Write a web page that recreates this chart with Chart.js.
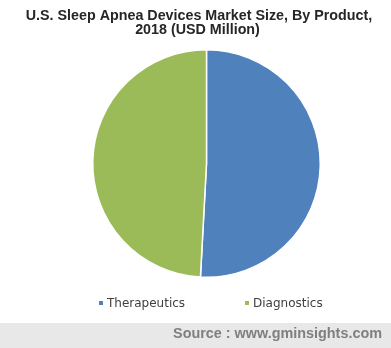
<!DOCTYPE html>
<html>
<head>
<meta charset="utf-8">
<script src="https://cdn.jsdelivr.net/npm/chart.js@4"></script>
<style>
  html, body { margin: 0; padding: 0; background: #ffffff; }
  #wrap { position: relative; width: 391px; height: 348px; }
  canvas { display: block; }
</style>
</head>
<body>
<div id="wrap"><canvas id="c" width="391" height="348"></canvas></div>
<script>
// Data (share of 2018 U.S. market)
const categories = ["Therapeutics", "Diagnostics"];
const shareValues = [50.85, 49.15];
const sliceColors = ["#4f81bd", "#9bbb59"];
const titleLines = ["U.S. Sleep Apnea Devices Market Size, By Product,", "2018 (USD Million)"];
const sourceText = "Source : www.gminsights.com";

const decorPlugin = {
  id: "decor",
  beforeDraw(chart) {
    const ctx = chart.ctx;
    ctx.save();
    ctx.fillStyle = "#ffffff";
    ctx.fillRect(0, 0, chart.width, chart.height);
    // source band
    ctx.fillStyle = "#e8e8e8";
    ctx.fillRect(0, 323, chart.width, chart.height - 323);
    ctx.restore();
  },
  afterDraw(chart) {
    const ctx = chart.ctx;
    ctx.save();
    // title
    ctx.fillStyle = "#262626";
    ctx.font = "bold 14.3px 'Liberation Sans', Arial, sans-serif";
    ctx.textAlign = "center";
    ctx.textBaseline = "alphabetic";
    ctx.fillText(titleLines[0], 199, 19.5);
    ctx.fillText(titleLines[1], 197.5, 34);
    // legend
    ctx.font = "12px 'DejaVu Sans', sans-serif";
    ctx.textAlign = "left";
    ctx.textBaseline = "middle";
    const legendX = [99, 245];
    categories.forEach((name, i) => {
      ctx.fillStyle = sliceColors[i];
      ctx.fillRect(legendX[i], 301, 4, 4);
      ctx.fillStyle = "#404040";
      ctx.fillText(name, legendX[i] + 8, 303.5);
    });
    // source
    ctx.fillStyle = "#7f7f7f";
    ctx.font = "bold 14.4px 'Liberation Sans', Arial, sans-serif";
    ctx.textAlign = "right";
    ctx.fillText(sourceText, 382, 334.5);
    ctx.restore();
  }
};

new Chart(document.getElementById("c"), {
  type: "pie",
  data: {
    labels: categories,
    datasets: [{
      data: shareValues,
      backgroundColor: sliceColors,
      borderColor: "#ffffff",
      borderWidth: 1.5
    }]
  },
  options: {
    responsive: false,
    animation: false,
    layout: { padding: { top: 49, bottom: 70, left: 92, right: 70 } },
    plugins: {
      legend: { display: false },
      title: { display: false },
      tooltip: { enabled: false }
    }
  },
  plugins: [decorPlugin]
});
</script>
</body>
</html>
